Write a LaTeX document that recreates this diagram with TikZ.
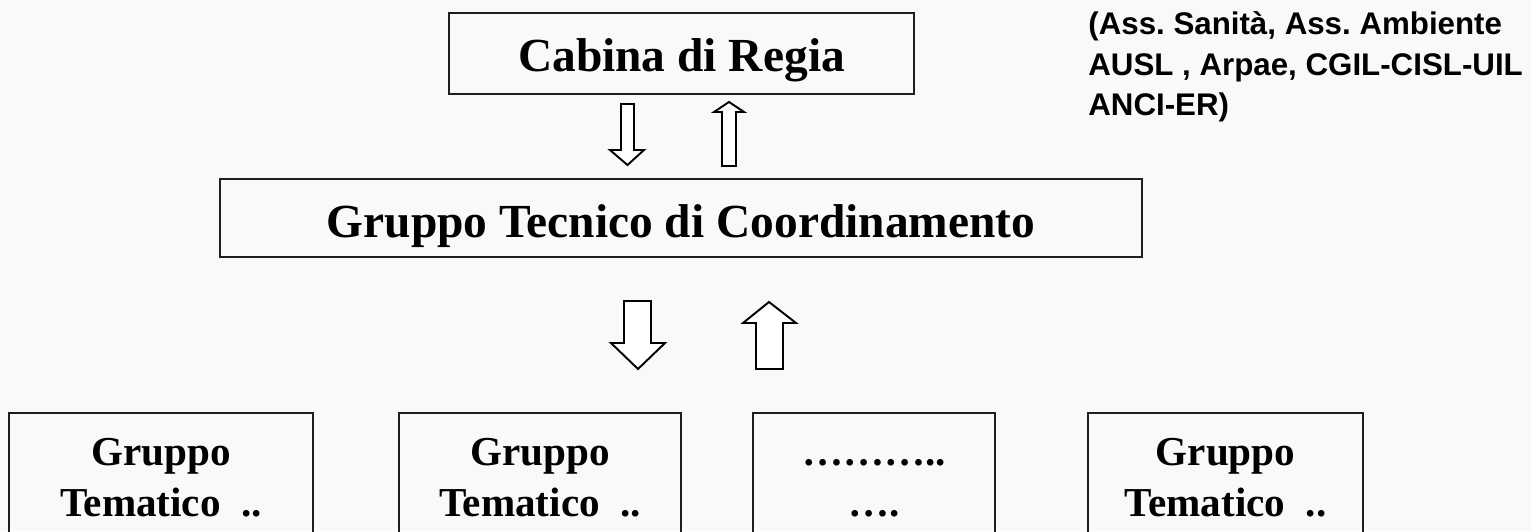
\documentclass[tikz,border=0pt]{standalone}
\usepackage{fontspec}
\setmainfont{Liberation Serif}
\newfontfamily\entifont{Liberation Sans}
\definecolor{bgcol}{RGB}{249,249,249}
\definecolor{boxline}{RGB}{30,30,30}
\frenchspacing

\begin{document}
\begin{tikzpicture}[
		every node/.style={inner sep=0pt},
		level/.style={draw=boxline, line width=1.1pt, text height=0.76cm, text depth=0pt, font=\fontsize{27}{32}\selectfont\bfseries},
		group/.style={draw=boxline, line width=1.1pt, align=center, minimum height=2.7cm, font=\fontsize{23.4}{29.5}\selectfont\bfseries},
		blockarrow/.style={draw=black, line width=1.1pt, fill=white, line join=miter}
	]
	\useasboundingbox (0,0) rectangle (30.62,10.62);
	\clip (0,0) rectangle (30.62,10.62);
	\fill[bgcol] (0,0) rectangle (30.62,10.62);

	\node[level, minimum width=9.3cm, minimum height=1.62cm, text height=0.74cm] (cabina) at (13.63,9.55) {Cabina di Regia};
	\node[level, minimum width=18.44cm, minimum height=1.56cm, text height=0.8cm] (tecnico) at (13.62,6.26) {Gruppo Tecnico di Coordinamento};

	\node[group, minimum width=6.08cm] (tema1) at (3.22,1.008) {\strut Gruppo\\\strut Tematico\ \ ..};
	\node[group, minimum width=5.64cm] (tema2) at (10.80,1.008) {\strut Gruppo\\\strut Tematico\ \ ..};
	\node[group, minimum width=4.84cm] (tema3) at (17.48,1.008) {\strut………..\\\strut….};
	\node[group, minimum width=5.50cm] (tema4) at (24.51,1.008) {\strut Gruppo\\\strut Tematico\ \ ..};

	\node[anchor=north west, align=left, font=\entifont\fontsize{17.8}{23.2}\selectfont\bfseries] (enti) at (21.76,10.40) {(Ass. Sanità, Ass. Ambiente\\AUSL , Arpae, CGIL-CISL-UIL\\ANCI-ER)};

	% cabina <-> tecnico
	\draw[blockarrow] (12.42,8.54) -- (12.68,8.54) -- (12.68,7.62) -- (12.88,7.62) -- (12.55,7.32) -- (12.20,7.62) -- (12.42,7.62) -- cycle;
	\draw[blockarrow] (14.58,8.58) -- (14.88,8.38) -- (14.72,8.38) -- (14.72,7.30) -- (14.44,7.30) -- (14.44,8.38) -- (14.28,8.38) -- cycle;

	% tecnico <-> gruppi tematici
	\draw[blockarrow] (12.48,4.60) -- (13.02,4.60) -- (13.02,3.76) -- (13.30,3.76) -- (12.76,3.24) -- (12.22,3.76) -- (12.48,3.76) -- cycle;
	\draw[blockarrow] (15.38,4.58) -- (15.92,4.16) -- (15.66,4.16) -- (15.66,3.24) -- (15.12,3.24) -- (15.12,4.16) -- (14.86,4.16) -- cycle;
\end{tikzpicture}
\end{document}
